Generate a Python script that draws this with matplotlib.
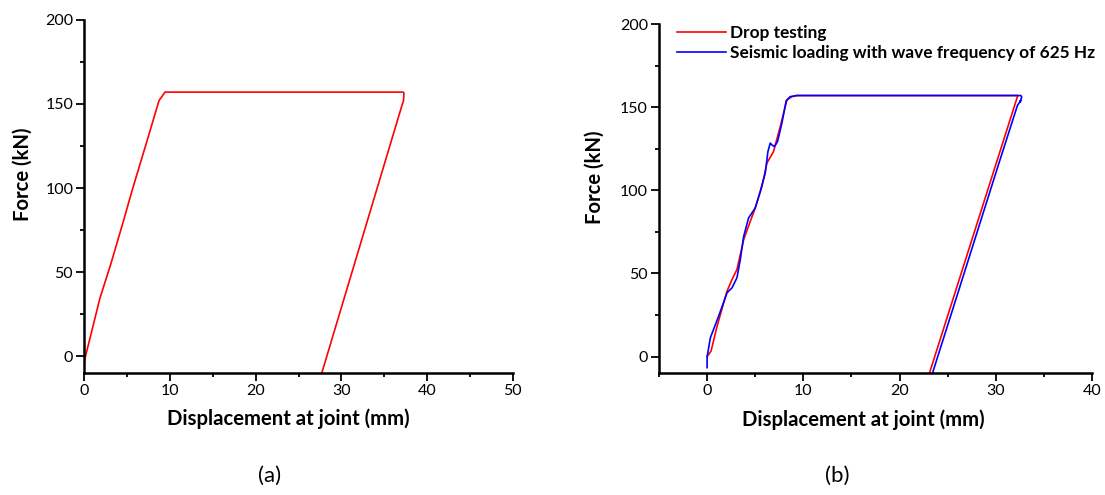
import matplotlib
matplotlib.use("Agg")
import matplotlib.pyplot as plt
from matplotlib.ticker import MultipleLocator

plt.rcParams['font.family'] = ['Lato', 'DejaVu Sans']

# (a) drop test, force vs joint displacement
a_disp = [0, 0, 0.28, 1.83, 3.1, 4.6, 5.6, 7.2, 8.72, 9.42, 37.2, 37.3, 37.25, 37.0, 27.7]
a_force = [-4, -3, 3, 34.7, 55, 81, 99, 126, 152, 157, 157, 156.5, 152, 148, -10]

# (b) drop test vs seismic loading
drop_disp = [0, 0.41, 1.04, 2.07, 2.59, 3.1, 3.8, 4.49, 5.0, 5.7, 6.22, 6.9, 7.6,
             8.29, 8.8, 9.33, 32.3, 32.2, 23.1]
drop_force = [0, 3.4, 18.4, 39.4, 46.4, 52.4, 70.4, 81.4, 89.4, 102.3, 116.4, 123.3,
              138.3, 154.3, 156.3, 157, 157, 155.4, -10]

seis_disp = [0, 0, 0.34, 1.2, 2.07, 2.59, 3.1, 3.45, 3.8, 4.31, 5.0, 5.52, 6.04,
             6.32, 6.56, 6.8, 7.0, 7.32, 7.77, 8.22, 8.63, 9.33, 32.6, 32.7,
             32.5, 32.6, 32.25, 30.31, 28.15, 26.02, 23.91, 23.42]
seis_force = [-6.6, 0, 11.4, 24.4, 38.4, 41.4, 47.4, 58.4, 72.3, 83.4, 89.4, 99.3,
              110.4, 123.3, 128.4, 127, 126.3, 129.3, 140.4, 153.9, 156.3, 157, 157,
              156, 153, 154, 151, 116, 76.5, 37.5, -1, -10]

W, H = 1105, 495
fig = plt.figure(figsize=(W / 100, H / 100), dpi=100)
ax1 = fig.add_axes([84.3 / W, 1 - 373.3 / H, 428.5 / W, 353.6 / H])
ax2 = fig.add_axes([659 / W, 1 - 373.3 / H, 433 / W, 349.3 / H])


def style(ax, xlim):
    ax.set_xlim(*xlim)
    ax.set_ylim(-10, 200)
    for s in ('top', 'right'):
        ax.spines[s].set_visible(False)
    for s in ('left', 'bottom'):
        ax.spines[s].set_linewidth(1.8)
    ax.xaxis.set_major_locator(MultipleLocator(10))
    ax.xaxis.set_minor_locator(MultipleLocator(5))
    ax.yaxis.set_major_locator(MultipleLocator(50))
    ax.yaxis.set_minor_locator(MultipleLocator(25))
    ax.tick_params(which='major', direction='out', length=5.5, width=1.3,
                   labelsize=11.5, pad=2.5, color='black')
    ax.tick_params(which='minor', direction='out', length=3, width=1.3)
    ax.set_xlabel('Displacement at joint (mm)', fontsize=14.6, fontweight='bold')
    ax.set_ylabel('Force (kN)', fontsize=14.6, fontweight='bold')


ax1.plot(a_disp, a_force, color='#ff0000', lw=1.2)
style(ax1, (0, 50))
ax1.xaxis.set_label_coords(0.475, -0.1)
ax1.yaxis.set_label_coords(-0.12, 0.564)

ax2.plot(drop_disp, drop_force, color='#ff0000', lw=1.2, label='Drop testing')
ax2.plot(seis_disp, seis_force, color='#0000ff', lw=1.2,
         label='Seismic loading with wave frequency of 625 Hz')
style(ax2, (-5, 40))
ax2.xaxis.set_label_coords(0.471, -0.102)
ax2.yaxis.set_label_coords(-0.125, 0.561)
ax2.legend(loc='upper left', bbox_to_anchor=(0.041, 0.998), frameon=False,
           borderpad=0, borderaxespad=0, handlelength=2.85, handletextpad=0.25,
           labelspacing=0.27, prop={'weight': 'bold', 'size': 12.4})

fig.text(270 / W, 1 - 476 / H, '(a)', ha='center', va='center', fontsize=16)
fig.text(837.5 / W, 1 - 476 / H, '(b)', ha='center', va='center', fontsize=16)

fig.savefig('out.png', dpi=100)
